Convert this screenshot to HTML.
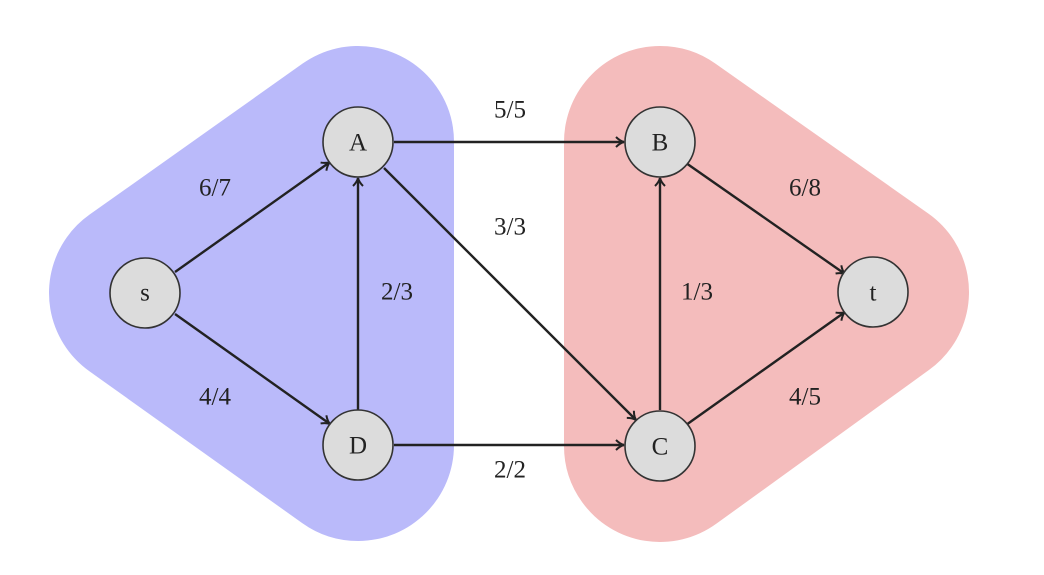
<!DOCTYPE html>
<html><head><style>html,body{margin:0;padding:0;background:#fff}</style></head><body>
<svg width="1044" height="570" viewBox="0 0 1044 570" xmlns="http://www.w3.org/2000/svg">
<defs>
<marker id="ar" markerWidth="14" markerHeight="14" refX="11" refY="7" orient="auto" markerUnits="userSpaceOnUse">
<path d="M3,2 Q7,6 11,7 Q7,8 3,12" fill="none" stroke="#222" stroke-width="2"/>
</marker>
</defs>
<polygon points="145,293 358,142 358,445" fill="#babafa" stroke="#babafa" stroke-width="192" stroke-linejoin="round"/>
<polygon points="660,142 873,292 660,446" fill="#f4bcbc" stroke="#f4bcbc" stroke-width="192" stroke-linejoin="round"/>
<g stroke="#222" stroke-width="2.4" fill="none" marker-end="url(#ar)">
<line x1="175" y1="272" x2="330" y2="162"/>
<line x1="175" y1="314" x2="330" y2="424"/>
<line x1="358" y1="410" x2="358" y2="178"/>
<line x1="394" y1="142" x2="624" y2="142"/>
<line x1="384" y1="168" x2="636" y2="420"/>
<line x1="394" y1="445" x2="624" y2="445"/>
<line x1="660" y1="410" x2="660" y2="178"/>
<line x1="686" y1="163" x2="845" y2="274"/>
<line x1="686" y1="425" x2="845" y2="312"/>
</g>
<g fill="#dcdcdc" stroke="#333" stroke-width="1.6">
<circle cx="145" cy="293" r="35"/>
<circle cx="358" cy="142" r="35"/>
<circle cx="358" cy="445" r="35"/>
<circle cx="660" cy="142" r="35"/>
<circle cx="660" cy="446" r="35"/>
<circle cx="873" cy="292" r="35"/>
</g>
<g font-family="Liberation Serif, serif" font-size="25" fill="#222" text-anchor="middle" dominant-baseline="central">
<text x="145" y="293">s</text>
<text x="358" y="143">A</text>
<text x="358" y="446">D</text>
<text x="660" y="143">B</text>
<text x="660" y="447">C</text>
<text x="873" y="293">t</text>
<text x="215" y="188">6/7</text>
<text x="215" y="397">4/4</text>
<text x="397" y="292">2/3</text>
<text x="510" y="110">5/5</text>
<text x="510" y="227">3/3</text>
<text x="510" y="470">2/2</text>
<text x="805" y="188">6/8</text>
<text x="697" y="292">1/3</text>
<text x="805" y="397">4/5</text>
</g>
</svg>
</body></html>
